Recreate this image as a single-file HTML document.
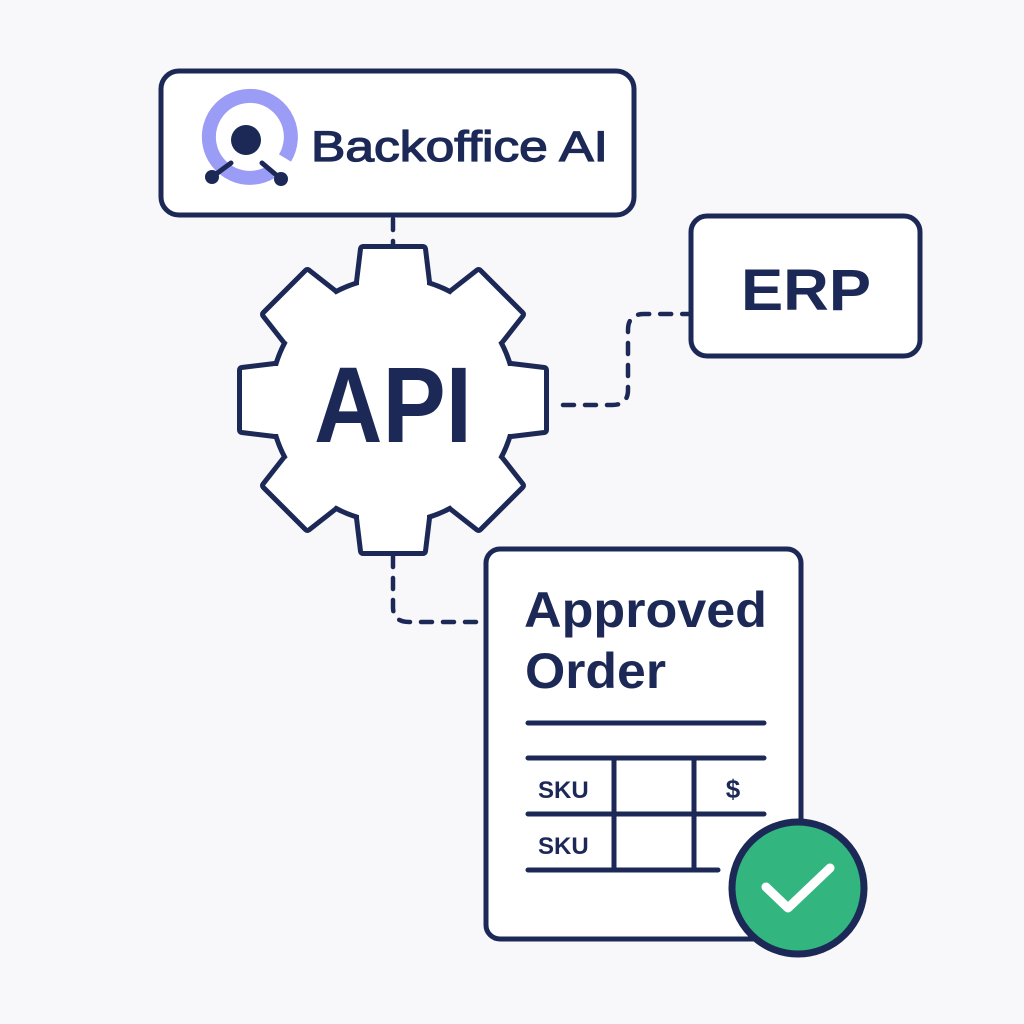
<!DOCTYPE html>
<html><head><meta charset="utf-8"><style>
html,body{margin:0;padding:0;background:#f8f8fa;}
svg{display:block}
text{font-family:"Liberation Sans",sans-serif;fill:#1c2957}
</style></head><body>
<svg width="1024" height="1024" viewBox="0 0 1024 1024" xmlns="http://www.w3.org/2000/svg">
<rect width="1024" height="1024" fill="#f8f8fa"/>
<g fill="none" stroke="#1c2957" stroke-width="4.5" stroke-linecap="round" stroke-linejoin="round" stroke-dasharray="11 11">
<path d="M393 219 L393 252"/>
<path d="M563 405 L612 405 Q628 405 628 390 L628 330 Q628 314 644 314 L688 314"/>
<path d="M393 556 L393 607 Q393 622 409 622 L478 622"/>
</g>
<rect x="161" y="71" width="473" height="144" rx="18" fill="#fff" stroke="#1c2957" stroke-width="5"/>
<path d="M271 172 A41 41 0 1 1 285 158" fill="none" stroke="#9a9cf5" stroke-width="14"/>
<circle cx="246" cy="140" r="15" fill="#1c2957"/>
<path d="M231 163 L212 177 M262 163 L281 179" stroke="#1c2957" stroke-width="5" stroke-linecap="round"/>
<circle cx="212" cy="177" r="7" fill="#1c2957"/>
<circle cx="281" cy="179" r="7" fill="#1c2957"/>
<text x="311" y="161" font-size="43" stroke="#1c2957" stroke-width="1.3" textLength="297" lengthAdjust="spacingAndGlyphs">Backoffice AI</text>
<g transform="translate(393,400)">
<g fill="none" stroke="#1c2957" stroke-width="10" stroke-linejoin="round">
<circle r="120"/>
<polygon points="-34,-100 -34,-118 -30,-151 30,-151 34,-118 34,-100"/>
<polygon transform="rotate(45)" points="-34,-100 -34,-118 -30,-151 30,-151 34,-118 34,-100"/>
<polygon transform="rotate(90)" points="-34,-100 -34,-118 -30,-151 30,-151 34,-118 34,-100"/>
<polygon transform="rotate(135)" points="-34,-100 -34,-118 -30,-151 30,-151 34,-118 34,-100"/>
<polygon transform="rotate(180)" points="-34,-100 -34,-118 -30,-151 30,-151 34,-118 34,-100"/>
<polygon transform="rotate(225)" points="-34,-100 -34,-118 -30,-151 30,-151 34,-118 34,-100"/>
<polygon transform="rotate(270)" points="-34,-100 -34,-118 -30,-151 30,-151 34,-118 34,-100"/>
<polygon transform="rotate(315)" points="-34,-100 -34,-118 -30,-151 30,-151 34,-118 34,-100"/>
</g>
<g fill="#fff" stroke="none">
<circle r="120"/>
<polygon points="-34,-100 -34,-118 -30,-151 30,-151 34,-118 34,-100"/>
<polygon transform="rotate(45)" points="-34,-100 -34,-118 -30,-151 30,-151 34,-118 34,-100"/>
<polygon transform="rotate(90)" points="-34,-100 -34,-118 -30,-151 30,-151 34,-118 34,-100"/>
<polygon transform="rotate(135)" points="-34,-100 -34,-118 -30,-151 30,-151 34,-118 34,-100"/>
<polygon transform="rotate(180)" points="-34,-100 -34,-118 -30,-151 30,-151 34,-118 34,-100"/>
<polygon transform="rotate(225)" points="-34,-100 -34,-118 -30,-151 30,-151 34,-118 34,-100"/>
<polygon transform="rotate(270)" points="-34,-100 -34,-118 -30,-151 30,-151 34,-118 34,-100"/>
<polygon transform="rotate(315)" points="-34,-100 -34,-118 -30,-151 30,-151 34,-118 34,-100"/>
</g>
</g>
<text x="393" y="442" font-size="108" font-weight="bold" text-anchor="middle" textLength="158" lengthAdjust="spacingAndGlyphs">API</text>
<rect x="691" y="216" width="229" height="140" rx="16" fill="#fff" stroke="#1c2957" stroke-width="5"/>
<text x="806" y="310" font-size="58" font-weight="bold" text-anchor="middle" textLength="130" lengthAdjust="spacingAndGlyphs">ERP</text>
<rect x="486" y="549" width="315" height="390" rx="14" fill="#fff" stroke="#1c2957" stroke-width="5"/>
<text x="524" y="627" font-size="50" font-weight="bold" textLength="243" lengthAdjust="spacingAndGlyphs">Approved</text>
<text x="525" y="688" font-size="50" font-weight="bold" textLength="141" lengthAdjust="spacingAndGlyphs">Order</text>
<g stroke="#1c2957" stroke-width="5" stroke-linecap="round">
<path d="M528 723 L764 723 M528 758 L764 758 M528 814 L764 814 M528 870 L718 870 M614 758 L614 870 M694 758 L694 870"/>
</g>
<text x="538" y="798" font-size="24" font-weight="bold">SKU</text>
<text x="538" y="854" font-size="24" font-weight="bold">SKU</text>
<text x="733" y="798" font-size="26" font-weight="bold" text-anchor="middle">$</text>
<circle cx="798" cy="888" r="66" fill="#33b57f" stroke="#1c2957" stroke-width="7"/>
<path d="M766 887 L788 908 L830 868" fill="none" stroke="#fff" stroke-width="9" stroke-linecap="round" stroke-linejoin="round"/>
</svg>
</body></html>
